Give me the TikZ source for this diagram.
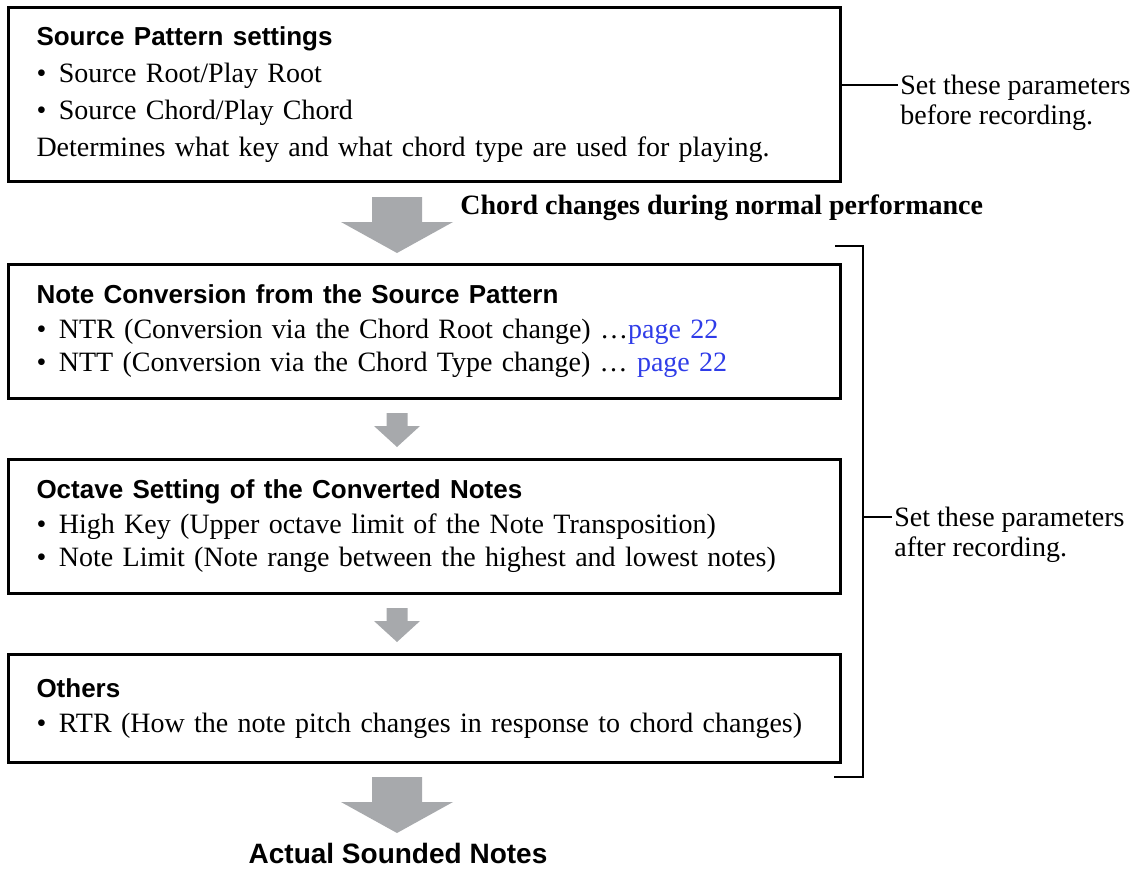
\documentclass[tikz,border=0pt]{standalone}
\usepackage{fontspec}
\setmainfont{Liberation Serif}
\setsansfont{Liberation Sans}
\usepackage{xcolor}
\definecolor{ArrowGray}{HTML}{A7A9AC}
\definecolor{PageBlue}{HTML}{2F3CE8}
\usepackage{tikz}
\usetikzlibrary{positioning}

\newcommand{\boxhead}[1]{{\fontsize{13}{15}\selectfont\sffamily\bfseries #1}}
\newcommand{\pagelink}[1]{\textcolor{PageBlue}{page #1}}
\newcommand{\itembul}{\textbullet\hspace{0.45em}}

\begin{document}
\begin{tikzpicture}[
  x=0.5pt, y=-0.5pt,
  node distance=29pt,
  panel/.style={rectangle, draw=black, line width=1.5pt, minimum width=416pt, text width=388pt, inner xsep=14pt, inner ysep=0pt, align=left, font=\fontsize{14}{16.5}\selectfont},
  bracket/.style={line width=1pt, black},
  sidenote/.style={inner sep=1pt, anchor=north west, align=left, font=\fontsize{14}{15}\selectfont},
  bigdown/.pic={\fill[ArrowGray] (-25,0) -- (25,0) -- (25,25) -- (56,25) -- (0,56) -- (-56,25) -- (-25,25) -- cycle;},
  smalldown/.pic={\fill[ArrowGray] (-10.5,0) -- (10.5,0) -- (10.5,13) -- (23,13) -- (0,34) -- (-23,13) -- (-10.5,13) -- cycle;}
]
  \useasboundingbox (0,0) rectangle (1144,873);

  % the four setting boxes
  \node[panel, anchor=north west, minimum height=87pt] (src) at (7,6) {\boxhead{Source Pattern settings}\\[2pt]
    \itembul Source Root/Play Root\\[2pt]
    \itembul Source Chord/Play Chord\\[2pt]
    Determines what key and what chord type are used for playing.};
  \node[panel, below=40pt of src, minimum height=67pt] (conv) {\boxhead{Note Conversion from the Source Pattern}\\[1pt]
    \itembul NTR (Conversion via the Chord Root change) …\pagelink{22}\\
    \itembul NTT (Conversion via the Chord Type change) … \pagelink{22}};
  \node[panel, below=of conv, minimum height=67pt] (oct) {\boxhead{Octave Setting of the Converted Notes}\\[1pt]
    \itembul High Key (Upper octave limit of the Note Transposition)\\
    \itembul Note Limit (Note range between the highest and lowest notes)};
  \node[panel, below=of oct, minimum height=54pt] (oth) {\boxhead{Others}\\[1pt]
    \itembul RTR (How the note pitch changes in response to chord changes)};

  % flow arrows
  \pic (down1) at (397,197) {bigdown};
  \pic (down2) at (397,413) {smalldown};
  \pic (down3) at (397,608) {smalldown};
  \pic (down4) at (397,777) {bigdown};

  \node[anchor=west, inner sep=0pt, font=\fontsize{14}{16}\selectfont\bfseries] (chg) at (460,208) {Chord changes during normal performance};
  \node[inner sep=1pt, font=\fontsize{14}{16}\selectfont\sffamily\bfseries] (snd) at (398,853) {Actual Sounded Notes};

  % before recording
  \node[sidenote] (bef) at (898,73) {Set these parameters\\before recording.};
  \coordinate (bmid) at (0,85);
  \draw[bracket] (src.east |- bmid) -- (bef.west |- bmid);

  % after recording
  \coordinate (brtl) at (835,246);
  \coordinate (brtop) at (863,246);
  \coordinate (brbot) at (863,777);
  \coordinate (brbl) at (834,777);
  \coordinate (brmid) at (863,517);
  \draw[bracket] (brtl) -- (brtop) -- (brbot) -- (brbl);
  \node[sidenote] (aft) at (892,505) {Set these parameters\\after recording.};
  \draw[bracket] (brmid) -- (aft.west |- brmid);
\end{tikzpicture}
\end{document}
